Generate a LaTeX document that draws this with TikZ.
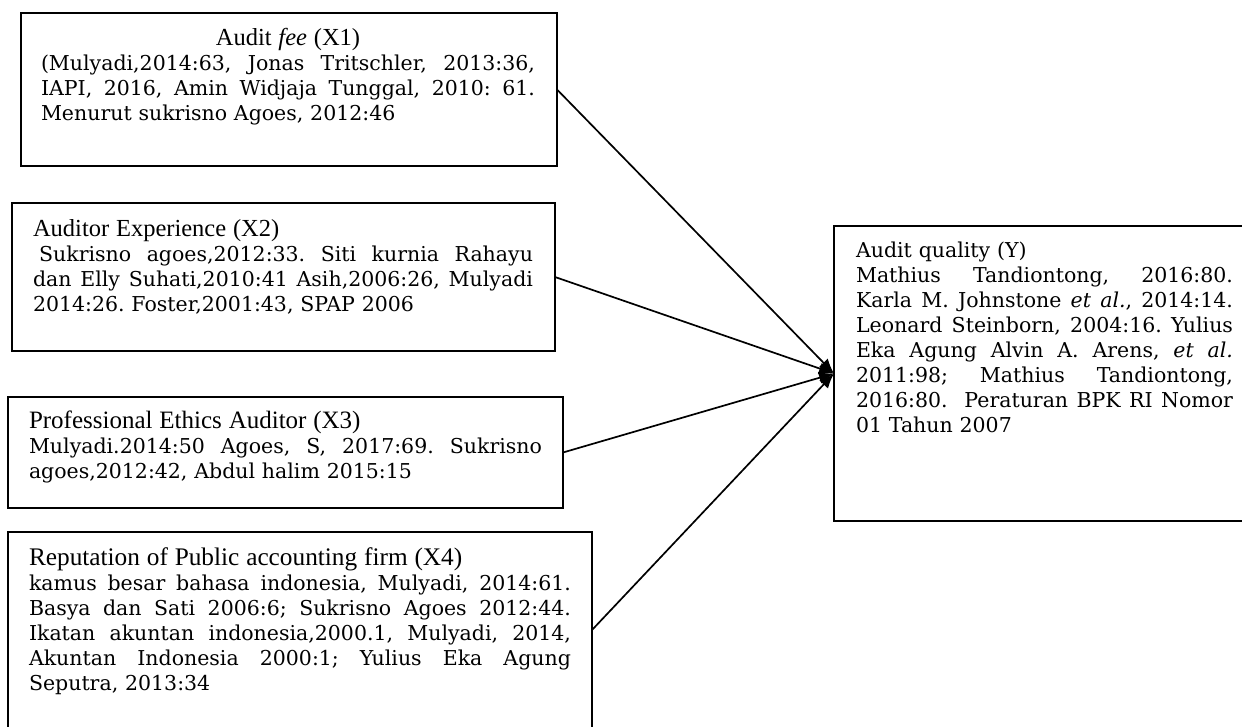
\documentclass[tikz,border=0pt]{standalone}
\usepackage{fontspec}
\setmainfont{DejaVu Serif}
\newfontfamily\titlef{Liberation Serif}
\usetikzlibrary{arrows.meta}
\newcommand\jl[1]{\leavevmode\hbox to\hsize{\spaceskip=.3em plus 1fil minus .15em\relax #1}}
\newcommand\ttl[2]{{\titlef\fontsize{#1}{25}\selectfont #2}}
\begin{document}
\begin{tikzpicture}[x=1pt,y=-1pt,
  box/.style={draw, line width=2pt, inner sep=0pt, outer sep=0pt, anchor=north west},
  txt/.style={anchor=base west, inner sep=0pt, outer sep=0pt, align=left,
    font=\fontsize{20.5}{25}\selectfont\frenchspacing},
  conn/.style={line width=1.7pt, -{Latex[length=15pt,width=12pt]}}]
\useasboundingbox (0,0) rectangle (1242,727);
\clip (0,0) rectangle (1242,727);
% boxes
\node[box, minimum width=536pt, minimum height=153pt] (x1) at (21,13) {};
\node[box, minimum width=543pt, minimum height=148pt] (x2) at (12,203) {};
\node[box, minimum width=555pt, minimum height=111pt] (x3) at (8,397) {};
\node[box, minimum width=584pt, minimum height=196pt] (x4) at (8,532) {};
\node[box, minimum width=420pt, minimum height=295pt] (y) at (834,226) {};
% texts
\node[txt, text width=494pt] (t1) at (41,46) {%
\leavevmode\hbox to\hsize{\hfil\ttl{24.5}{Audit \textit{fee} (X1)}\hfil}\\
\jl{(Mulyadi,2014:63, Jonas Tritschler, 2013:36,}\\
\jl{IAPI, 2016, Amin Widjaja Tunggal, 2010: 61.}\\
Menurut sukrisno Agoes, 2012:46};
\node[txt, text width=500pt] (t2) at (33,237) {%
\ttl{24.5}{Auditor Experience (X2)}\\
\jl{\hspace{.3em}Sukrisno agoes,2012:33. Siti kurnia Rahayu}\\
\jl{dan Elly Suhati,2010:41 Asih,2006:26, Mulyadi}\\
2014:26. Foster,2001:43, SPAP 2006};
\node[txt, text width=513pt] (t3) at (29,428) {%
\ttl{25}{Professional Ethics Auditor (X3)}\\
\jl{Mulyadi.2014:50 Agoes, S, 2017:69. Sukrisno}\\
agoes,2012:42, Abdul halim 2015:15};
\node[txt, text width=542pt] (t4) at (29,565) {%
\ttl{25.3}{Reputation of Public accounting firm (X4)}\\
\jl{kamus besar bahasa indonesia, Mulyadi, 2014:61.}\\
\jl{Basya dan Sati 2006:6; Sukrisno Agoes 2012:44.}\\
\jl{Ikatan akuntan indonesia,2000.1, Mulyadi, 2014,}\\
\jl{Akuntan Indonesia 2000:1; Yulius Eka Agung}\\
Seputra, 2013:34};
\node[txt, text width=377pt] (ty) at (856,258) {%
Audit quality (Y)\\
\jl{Mathius Tandiontong, 2016:80.}\\
\jl{Karla M. Johnstone \textit{et al.}, 2014:14.}\\
\jl{Leonard Steinborn, 2004:16. Yulius}\\
\jl{Eka Agung Alvin A. Arens, \textit{et al.}}\\
\jl{2011:98; Mathius Tandiontong,}\\
\jl{2016:80.\ \ Peraturan BPK RI Nomor}\\
01 Tahun 2007};
% connectors
\draw[conn] (x1.east) -- (y.west);
\draw[conn] (x2.east) -- (y.west);
\draw[conn] (x3.east) -- (y.west);
\draw[conn] (x4.east) -- (y.west);
\end{tikzpicture}
\end{document}
